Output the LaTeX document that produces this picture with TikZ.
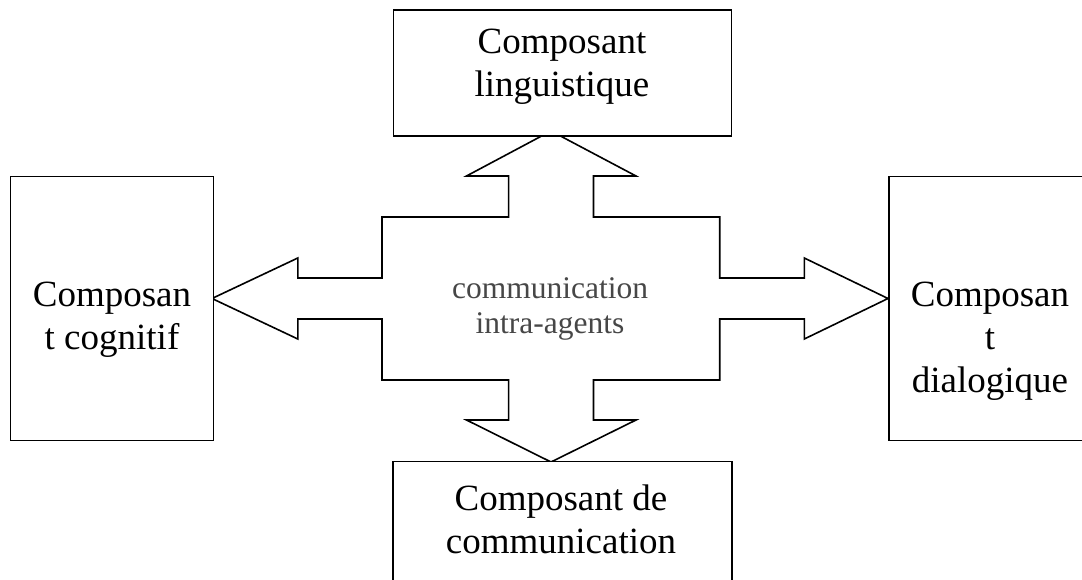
\documentclass[tikz,border=0pt]{standalone}
\usepackage{fontspec}
\setmainfont{Liberation Serif}
\begin{document}
\begin{tikzpicture}[x=1pt,y=-1pt,
  box/.style={draw=black, fill=white, line width=1.8pt, rectangle, inner sep=0pt},
  lbl/.style={align=center, inner sep=0pt, font=\fontsize{37}{43}\selectfont},
  midlbl/.style={align=center, inner sep=0pt, text=black!72, font=\fontsize{31.5}{35}\selectfont},
  bigarrow/.style={draw=black, fill=white, line width=1.6pt, line join=miter}]
\useasboundingbox (0,0) rectangle (1082,580);
\clip (0,0) rectangle (1082,580);
\fill[white] (0,0) rectangle (1082,580);
% centre of the four-way arrow
\coordinate (c) at (551,298.5);
\draw[bigarrow]
  (551,131) -- (636,176) -- (593.5,176) -- (593.5,217) -- (719.7,217) -- (719.7,278)
  -- (804.3,278) -- (804.3,258) -- (888,298.5) -- (804.3,339) -- (804.3,319)
  -- (719.7,319) -- (719.7,380) -- (593.5,380) -- (593.5,420) -- (636,420)
  -- (551,462) -- (466.5,420) -- (508.6,420) -- (508.6,380) -- (382,380)
  -- (382,319) -- (297.8,319) -- (297.8,339) -- (212,298.5) -- (297.8,258)
  -- (297.8,278) -- (382,278) -- (382,217) -- (508.6,217) -- (508.6,176)
  -- (466.5,176) -- cycle;
% boxes
\node[box, minimum width=338pt, minimum height=126pt] (top) at (562.5,73) {};
\node[box, minimum width=203pt, minimum height=264pt] (left) at (112,308.5) {};
\node[box, minimum width=203pt, minimum height=264pt] (right) at (990.5,308.5) {};
\node[box, minimum width=339pt, minimum height=200pt] (bottom) at (562.5,561.5) {};
% labels
\node[lbl] (toptxt) at (562,67) {Composant\\linguistique};
\node[lbl] (lefttxt) at (112,320) {Composan\\t cognitif};
\node[lbl] (righttxt) at (990,341) {Composan\\t\\dialogique};
\node[lbl] (bottomtxt) at (561,519) {Composant de\\communication};
\node[midlbl] (mid) at (550,309) {communication\\intra-agents};
\end{tikzpicture}
\end{document}
